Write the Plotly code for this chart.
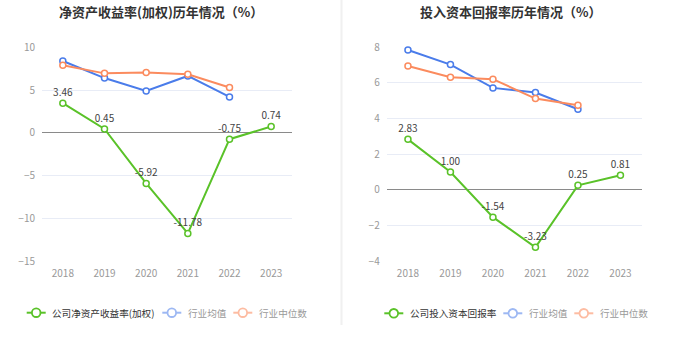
import plotly.graph_objects as go

years = ["2018", "2019", "2020", "2021", "2022", "2023"]

roe_company = [3.46, 0.45, -5.92, -11.78, -0.75, 0.74]
roe_avg = [8.4, 6.4, 4.9, 6.65, 4.2, None]
roe_median = [7.9, 6.95, 7.05, 6.85, 5.3, None]

roic_company = [2.83, 1.00, -1.54, -3.23, 0.25, 0.81]
roic_avg = [7.85, 7.03, 5.72, 5.46, 4.52, None]
roic_median = [6.95, 6.32, 6.21, 5.12, 4.75, None]

left_title = "净资产收益率(加权)历年情况（%）"
right_title = "投入资本回报率历年情况（%）"
left_names = ["公司净资产收益率(加权)", "行业均值", "行业中位数"]
right_names = ["公司投入资本回报率", "行业均值", "行业中位数"]

GREEN = "#5ac229"
BLUE = "#4a7cea"
ORANGE = "#fb8b5e"
LEG_COLORS = ["#5ac229", "#9db8f3", "#fdbca2"]
LEG_TEXT = ["#333333", "#999999", "#999999"]
FONT = "Noto Sans CJK SC"
W, H = 680, 349

fig = go.Figure()


def add_series(xa, ya, comp, avg, med):
    for vals, col in ((avg, BLUE), (med, ORANGE)):
        fig.add_trace(go.Scatter(
            x=years, y=vals, xaxis=xa, yaxis=ya, mode="lines+markers",
            line=dict(color=col, width=2),
            marker=dict(symbol="circle", size=6, color="white",
                        line=dict(color=col, width=1.5)),
            showlegend=False, cliponaxis=False))
    fig.add_trace(go.Scatter(
        x=years, y=comp, xaxis=xa, yaxis=ya, mode="lines+markers+text",
        line=dict(color=GREEN, width=2),
        marker=dict(symbol="circle", size=6, color="white",
                    line=dict(color=GREEN, width=1.5)),
        text=[f"{v:.2f}" for v in comp], textposition="top center",
        textfont=dict(family=FONT, size=10, color="#444"),
        showlegend=False, cliponaxis=False))


add_series("x", "y", roe_company, roe_avg, roe_median)
add_series("x2", "y2", roic_company, roic_avg, roic_median)

ytop = 1 - 47.3 / H
ybot = 1 - 261 / H

axis_common = dict(showgrid=True, gridcolor="#e8ecf6", gridwidth=1,
                   zeroline=True, zerolinecolor="#8a8a8a", zerolinewidth=1,
                   showline=False, ticks="", ticklabelstandoff=6,
                   tickfont=dict(family=FONT, size=10, color="#999"))
xcommon = dict(type="category", range=[-0.5, 5.5], showgrid=False, zeroline=False,
               showline=False, ticks="", ticklabelstandoff=5,
               tickfont=dict(family=FONT, size=10, color="#999"))

annotations = [
    dict(text=f"<b>{left_title}</b>", x=161 / W, y=1 - 11 / H, xref="paper", yref="paper",
         xanchor="center", yanchor="middle", showarrow=False,
         font=dict(family=FONT, size=13, color="#333")),
    dict(text=f"<b>{right_title}</b>", x=511 / W, y=1 - 11 / H, xref="paper", yref="paper",
         xanchor="center", yanchor="middle", showarrow=False,
         font=dict(family=FONT, size=13, color="#333")),
]

shapes = [dict(type="line", xref="paper", yref="paper", x0=341.5 / W, x1=341.5 / W,
               y0=1, y1=1 - 325 / H, line=dict(color="#f0f0f0", width=2))]
for xa, ya in (("x", "y"), ("x2", "y2")):
    for yr in years:
        shapes.append(dict(type="line", xref=xa, yref=ya, x0=yr, x1=yr,
                           ysizemode="pixel", yanchor=0, y0=0, y1=-5,
                           line=dict(color="#8a8a8a", width=1)))

# manual legends (pixel positions of each entry's symbol start)
legend_specs = [
    (left_names, [26.7, 162.3, 233.3], 312.7),
    (right_names, [384.3, 503.3, 574.3], 313.3),
]
for names, xs, yc in legend_specs:
    for nm, x0, col, tcol in zip(names, xs, LEG_COLORS, LEG_TEXT):
        yp = 1 - yc / H
        shapes.append(dict(type="line", xref="paper", yref="paper",
                           x0=x0 / W, x1=(x0 + 19) / W, y0=yp, y1=yp,
                           line=dict(color=col, width=2)))
        r = 4.3
        cx = x0 + 9.5
        shapes.append(dict(type="circle", xref="paper", yref="paper",
                           x0=(cx - r) / W, x1=(cx + r) / W,
                           y0=1 - (yc + r) / H, y1=1 - (yc - r) / H,
                           fillcolor="white", line=dict(color=col, width=1.8)))
        annotations.append(dict(text=nm, x=(x0 + 23.5) / W, y=yp, xref="paper", yref="paper",
                                xanchor="left", yanchor="middle", showarrow=False,
                                font=dict(family=FONT, size=9.6, color=tcol)))

fig.update_layout(
    width=W, height=H, margin=dict(l=0, r=0, t=0, b=0, autoexpand=False),
    paper_bgcolor="white", plot_bgcolor="white",
    font=dict(family=FONT), showlegend=False,
    xaxis=dict(domain=[42 / W, 292 / W], anchor="y", **xcommon),
    yaxis=dict(domain=[ybot, ytop], anchor="x", range=[-15, 10], dtick=5, **axis_common),
    xaxis2=dict(domain=[386.7 / W, 641.7 / W], anchor="y2", **xcommon),
    yaxis2=dict(domain=[ybot, ytop], anchor="x2", range=[-4, 8], dtick=2, **axis_common),
    annotations=annotations, shapes=shapes,
)

fig.write_html("out.html")
